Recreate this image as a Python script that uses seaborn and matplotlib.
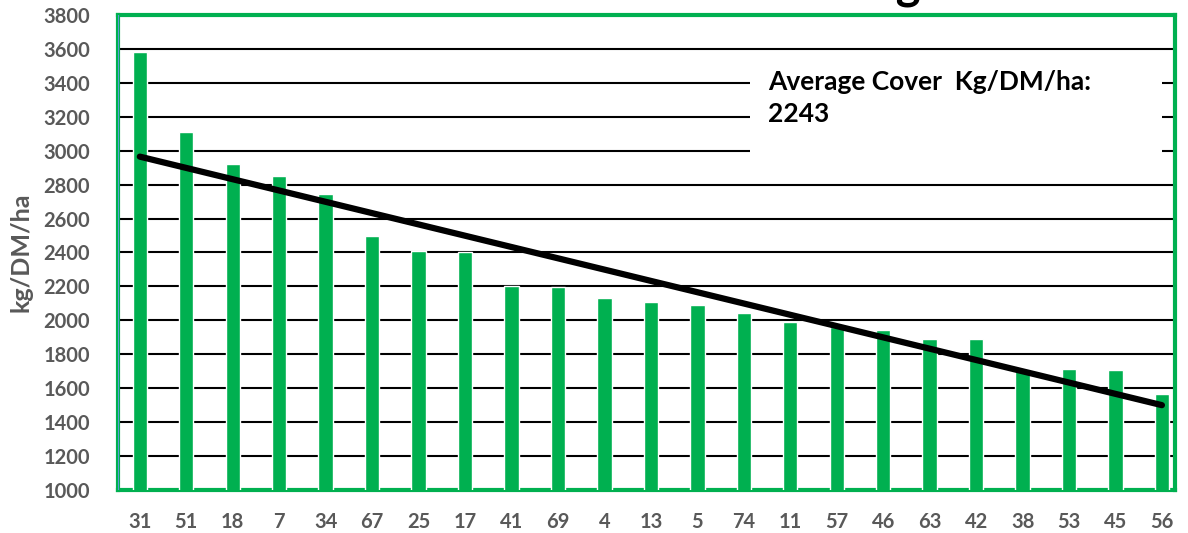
import matplotlib
matplotlib.use("Agg")
import matplotlib.pyplot as plt
import seaborn as sns
import numpy as np
import pandas as pd
from matplotlib.ticker import MultipleLocator
from matplotlib.patches import Rectangle

# paddock ids and cover values (kg DM/ha)
paddocks = ["31", "51", "18", "7", "34", "67", "25", "17", "41", "69", "4", "13",
            "5", "74", "11", "57", "46", "63", "42", "38", "53", "45", "56"]
covers = [3580, 3110, 2920, 2850, 2745, 2500, 2410, 2400, 2200, 2195, 2130, 2110,
          2090, 2045, 1990, 1960, 1945, 1890, 1888, 1700, 1715, 1708, 1566]
average_cover = 2243
# target wedge line: pre-grazing target -> residual target
target_pre = 2965
target_post = 1500

GREEN = "#00B050"
GREY = "#595959"
BLUE = "#5B9BD5"

sns.set_style("white")
plt.rcParams['font.family'] = ['Lato', 'DejaVu Sans']

df = pd.DataFrame({"paddock": paddocks, "cover": covers})
target = pd.DataFrame({"pos": [0, len(paddocks) - 1], "cover": [target_pre, target_post]})

fig = plt.figure(figsize=(11.88, 5.33), dpi=100)
ax = fig.add_axes([0.0993, 0.0807, 0.8897, 0.8912])

sns.barplot(data=df, x="paddock", y="cover", color=GREEN, width=0.31,
            saturation=1, ax=ax, zorder=3)

sns.lineplot(data=target, x="pos", y="cover", color="black", lw=4.5,
             solid_capstyle="round", zorder=5, ax=ax)

ax.set_ylim(1000, 3800)
ax.set_xlim(-0.47, 22.28)
ax.yaxis.set_major_locator(MultipleLocator(200))
ax.yaxis.set_minor_locator(MultipleLocator(50))
ax.grid(axis="y", color="black", lw=1.5, zorder=0)
ax.grid(axis="x", visible=False)

for s in ax.spines.values():
    s.set_color(GREEN)
    s.set_linewidth(3)
ax.axvline(ax.get_xlim()[0], color=BLUE, lw=1.5, zorder=6)

ax.tick_params(axis="y", which="major", direction="in", length=6, width=2,
               color=BLUE, labelsize=14.5, labelcolor=GREY, pad=20)
ax.tick_params(axis="y", which="minor", direction="in", length=5, width=1.2, color=BLUE)
ax.tick_params(axis="x", length=0, labelsize=14.5, labelcolor=GREY, pad=16)
for lab in ax.get_xticklabels() + ax.get_yticklabels():
    lab.set_fontweight("bold")

ax.set_xlabel("")
ax.set_ylabel("kg/DM/ha", fontsize=18, fontweight="bold", color=GREY, labelpad=8)

# average cover box
ax.add_patch(Rectangle((0.598, 0.695), 0.39, 0.221, transform=ax.transAxes,
                       facecolor="white", edgecolor="none", zorder=4))
ax.text(0.615, 0.885, f"Average Cover  Kg/DM/ha:\n{average_cover}",
        transform=ax.transAxes, ha="left", va="top", fontsize=19,
        fontweight="bold", color="black", linespacing=1.4, zorder=6)

# title mostly cut off above the chart
fig.text(0.678, 1.003, "Grass Wedge", ha="center", va="baseline",
         fontsize=34, fontweight="bold", color="black")

fig.savefig("out.png", dpi=100)
